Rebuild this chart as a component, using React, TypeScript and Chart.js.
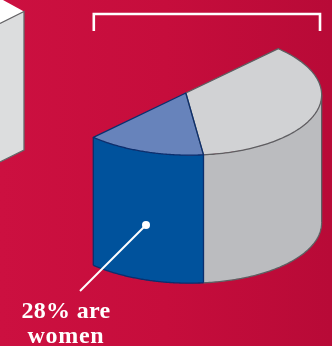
import { useEffect, useRef } from "react";
import { Chart, registerables } from "chart.js";

Chart.register(...registerables);

// Half-cylinder share chart: one half of a pie, lifted into an oblique view.
const groups = ["Men", "Women"];
const shares = [72, 28];
const topColors = ["#d1d2d4", "#6783bb"];
const wallColors = ["#bbbcbf", "#00529c"];
const edgeColors = ["#5e5f62", "#0b2f6e"];
const calloutLines = ["28% are", "women"];

// Oblique projection of the half disc: centre and the two semi-axis vectors.
const CENTER = { x: 185.8, y: 93 };
const AXIS_DIAMETER = { x: 92.5, y: -44.3 };
const AXIS_DEPTH = { x: 99.5, y: 43.6 };
const WALL_HEIGHT = 128;

const rimPoint = (theta: number) => ({
  x: CENTER.x + AXIS_DEPTH.x * Math.cos(theta) - AXIS_DIAMETER.x * Math.sin(theta),
  y: CENTER.y + AXIS_DEPTH.y * Math.cos(theta) - AXIS_DIAMETER.y * Math.sin(theta),
});

const traceRim = (ctx: CanvasRenderingContext2D, from: number, to: number, dy = 0, move = false) => {
  const steps = 96;
  for (let i = 0; i <= steps; i++) {
    const p = rimPoint(from + ((to - from) * i) / steps);
    if (i === 0 && move) ctx.moveTo(p.x, p.y + dy);
    else ctx.lineTo(p.x, p.y + dy);
  }
};

const obliquePie = {
  id: "obliquePie",
  beforeDraw(chart: Chart) {
    const { ctx, width, height } = chart;
    const bg = ctx.createLinearGradient(0, 0, width, 0);
    bg.addColorStop(0, "#cc1040");
    bg.addColorStop(0.5, "#c60d3c");
    bg.addColorStop(1, "#b80a37");
    ctx.fillStyle = bg;
    ctx.fillRect(0, 0, width, height);

    // Neighbouring block, cut off by the left edge.
    ctx.fillStyle = "#ffffff";
    ctx.beginPath();
    ctx.moveTo(0, 0);
    ctx.lineTo(3, 0);
    ctx.lineTo(24, 11.5);
    ctx.lineTo(0, 23.5);
    ctx.closePath();
    ctx.fill();
    ctx.fillStyle = "#dcddde";
    ctx.beginPath();
    ctx.moveTo(24, 11.5);
    ctx.lineTo(24, 150);
    ctx.lineTo(0, 162);
    ctx.lineTo(0, 23.5);
    ctx.closePath();
    ctx.fill();
    ctx.strokeStyle = "#66686a";
    ctx.lineWidth = 1.3;
    ctx.beginPath();
    ctx.moveTo(0, 23.5);
    ctx.lineTo(24, 11.5);
    ctx.lineTo(24, 150);
    ctx.lineTo(0, 162);
    ctx.stroke();

    // Bracket above the half cylinder.
    ctx.strokeStyle = "#ffffff";
    ctx.lineWidth = 2.6;
    ctx.beginPath();
    ctx.moveTo(93.8, 31);
    ctx.lineTo(93.8, 14);
    ctx.lineTo(320, 14);
    ctx.lineTo(320, 31);
    ctx.stroke();
  },
  beforeDatasetsDraw(chart: Chart) {
    const { ctx } = chart;
    const arcs = chart.getDatasetMeta(0).data as any[];
    const silhouette = -Math.atan2(AXIS_DIAMETER.x, AXIS_DEPTH.x);

    // Outer walls follow the angles the library computed for each slice.
    arcs.forEach((arc, i) => {
      const from = Math.max(arc.startAngle, silhouette);
      const to = arc.endAngle;
      ctx.fillStyle = wallColors[i];
      ctx.beginPath();
      traceRim(ctx, from, to, 0, true);
      traceRim(ctx, to, from, WALL_HEIGHT);
      ctx.closePath();
      ctx.fill();
    });

    // Project the flat slices onto the oblique top face.
    const { x, y, outerRadius: r } = arcs[0];
    const m11 = AXIS_DEPTH.x / r;
    const m12 = AXIS_DEPTH.y / r;
    const m21 = -AXIS_DIAMETER.x / r;
    const m22 = -AXIS_DIAMETER.y / r;
    ctx.save();
    ctx.transform(m11, m12, m21, m22, CENTER.x - (m11 * x + m21 * y), CENTER.y - (m12 * x + m22 * y));
  },
  afterDatasetsDraw(chart: Chart) {
    const { ctx } = chart;
    ctx.restore();
    const arcs = chart.getDatasetMeta(0).data as any[];
    const silhouette = -Math.atan2(AXIS_DIAMETER.x, AXIS_DEPTH.x);

    ctx.lineJoin = "round";
    ctx.lineWidth = 1.3;
    arcs.forEach((arc, i) => {
      const from = Math.max(arc.startAngle, silhouette);
      ctx.strokeStyle = edgeColors[i];
      ctx.beginPath();
      ctx.moveTo(CENTER.x, CENTER.y);
      traceRim(ctx, arc.startAngle, arc.endAngle);
      ctx.closePath();
      ctx.stroke();
      ctx.beginPath();
      traceRim(ctx, from, arc.endAngle, WALL_HEIGHT, true);
      ctx.stroke();
    });
    const first = rimPoint(silhouette);
    const split = rimPoint(arcs[0].endAngle);
    const last = rimPoint(arcs[1].endAngle);
    ctx.strokeStyle = edgeColors[0];
    ctx.beginPath();
    ctx.moveTo(first.x, first.y);
    ctx.lineTo(first.x, first.y + WALL_HEIGHT);
    ctx.stroke();
    ctx.strokeStyle = edgeColors[1];
    ctx.beginPath();
    ctx.moveTo(split.x, split.y);
    ctx.lineTo(split.x, split.y + WALL_HEIGHT);
    ctx.moveTo(last.x, last.y);
    ctx.lineTo(last.x, last.y + WALL_HEIGHT);
    ctx.stroke();

    // Callout for the highlighted slice.
    ctx.strokeStyle = "#ffffff";
    ctx.fillStyle = "#ffffff";
    ctx.lineWidth = 2;
    ctx.beginPath();
    ctx.moveTo(146, 225);
    ctx.lineTo(80, 291);
    ctx.stroke();
    ctx.beginPath();
    ctx.arc(146, 225, 4, 0, Math.PI * 2);
    ctx.fill();

    ctx.font = '600 24px "Liberation Serif"';
    ctx.textAlign = "center";
    ctx.textBaseline = "alphabetic";
    (ctx as any).letterSpacing = "0.3px";
    ctx.fillText(calloutLines[0], 66, 318);
    (ctx as any).letterSpacing = "0.7px";
    ctx.fillText(calloutLines[1], 66, 343);
  },
};

export default function App() {
  const canvasRef = useRef<HTMLCanvasElement>(null);

  useEffect(() => {
    const chart = new Chart(canvasRef.current!, {
      type: "pie",
      data: {
        labels: groups,
        datasets: [
          {
            data: shares,
            backgroundColor: topColors,
            borderWidth: 0,
            clip: false,
          } as any,
        ],
      },
      options: {
        responsive: false,
        animation: false,
        rotation: 0,
        circumference: 180,
        events: [],
        plugins: { legend: { display: false }, tooltip: { enabled: false } },
      },
      plugins: [obliquePie],
    });
    return () => chart.destroy();
  }, []);

  return (
    <canvas
      ref={canvasRef}
      width={332}
      height={346}
      style={{ position: "fixed", left: 0, top: 0, width: 332, height: 346 }}
    />
  );
}
